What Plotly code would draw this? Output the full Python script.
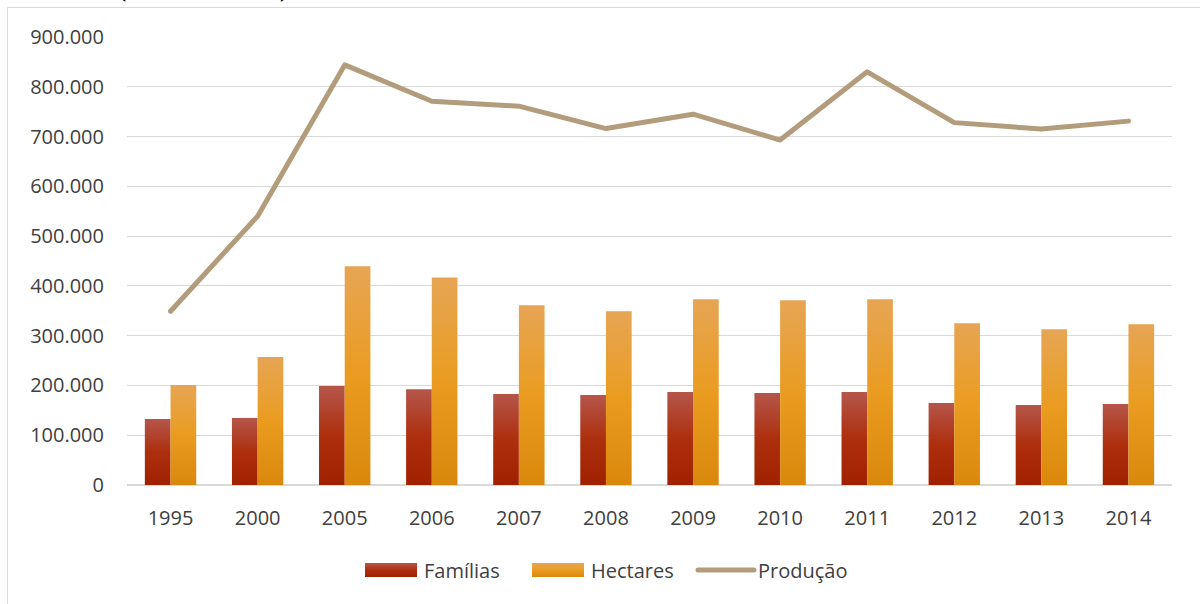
import plotly.graph_objects as go

# Dados por ano
anos = ["1995", "2000", "2005", "2006", "2007", "2008",
        "2009", "2010", "2011", "2012", "2013", "2014"]
familias = [132400, 134400, 198700, 192600, 182600, 180600,
            186600, 184600, 186600, 164500, 160500, 162500]
hectares = [200700, 257000, 439500, 417000, 361000, 349000,
            373000, 371000, 373000, 325000, 313000, 323000]
producao = [349000, 540000, 844000, 771000, 761000, 716000,
            745000, 693000, 830000, 728000, 715000, 731000]

y_ticks = [0, 100000, 200000, 300000, 400000, 500000, 600000, 700000, 800000, 900000]
y_tick_labels = ["0", "100.000", "200.000", "300.000", "400.000",
                 "500.000", "600.000", "700.000", "800.000", "900.000"]

FONT = "Open Sans"
TXT = "#404040"
GRID = "#d9d9d9"

fig = go.Figure()
fig.add_trace(go.Bar(x=anos, y=familias, name="Famílias",
                     marker=dict(color="#ab3113", line=dict(width=0))))
fig.add_trace(go.Bar(x=anos, y=hectares, name="Hectares",
                     marker=dict(color="#e69a22", line=dict(width=0))))
fig.add_trace(go.Scatter(x=anos, y=producao, name="Produção", mode="lines",
                         line=dict(color="#b29c7c", width=5)))

W, H = 1200, 604
L, R, T, B = 127, 28, 37, 119
pw, ph = W - L - R, H - T - B

def px_x(p):
    return (p - L) / pw

def px_y(p):
    return (H - B - p) / ph

# moldura do gráfico
fig.add_shape(type="rect", xref="paper", yref="paper",
              x0=px_x(7.5), x1=px_x(1215), y0=px_y(620), y1=px_y(7.5),
              line=dict(color=GRID, width=1), fillcolor="rgba(0,0,0,0)", layer="below")

fig.add_annotation(text="Paraná (1995 a 2014)", xref="paper", yref="paper",
                   x=px_x(292), y=px_y(4), xanchor="right", yanchor="bottom",
                   showarrow=False,
                   font=dict(family="Liberation Serif", size=31, color="#000000"))

fig.update_layout(
    width=W, height=H,
    margin=dict(l=L, r=R, t=T, b=B, pad=0),
    paper_bgcolor="white", plot_bgcolor="white",
    barmode="group", bargap=0.41, bargroupgap=0,
    font=dict(family=FONT, size=20, color=TXT),
    showlegend=True,
    legend=dict(orientation="h", x=px_x(358), y=px_y(570), xanchor="left", yanchor="middle",
                font=dict(family=FONT, size=20, color=TXT), itemwidth=56,
                entrywidth=96, entrywidthmode="pixels",
                bgcolor="rgba(0,0,0,0)"),
    xaxis=dict(type="category", showgrid=False, showline=True, linecolor=GRID, linewidth=1,
               ticks="", ticklabelstandoff=15, tickfont=dict(family=FONT, size=20, color=TXT)),
    yaxis=dict(range=[0, 900000], tickvals=y_ticks, ticktext=y_tick_labels,
               showgrid=True, gridcolor=GRID, gridwidth=1, zeroline=True, zerolinecolor=GRID,
               showline=False, ticks="", ticklabelstandoff=22,
               tickfont=dict(family=FONT, size=20, color=TXT)),
)

# gradiente vertical nas barras, símbolos largos na legenda e pontas arredondadas na linha
post = """
var gd = document.getElementById('{plot_id}');
function ajustaEstilo(){
  var ns = 'http://www.w3.org/2000/svg';
  var svg = gd.querySelector('svg.main-svg');
  var defs = svg.querySelector('defs');
  var grads = [['gradFam', [['0%','#b5564b'],['50%','#ad2f0d'],['100%','#a02100']]],
               ['gradHec', [['0%','#e6a554'],['50%','#ea9c20'],['100%','#d9880c']]]];
  grads.forEach(function(g){
    if (document.getElementById(g[0])) return;
    var lg = document.createElementNS(ns, 'linearGradient');
    lg.setAttribute('id', g[0]);
    lg.setAttribute('x1', '0'); lg.setAttribute('y1', '0');
    lg.setAttribute('x2', '0'); lg.setAttribute('y2', '1');
    g[1].forEach(function(s){
      var st = document.createElementNS(ns, 'stop');
      st.setAttribute('offset', s[0]);
      st.setAttribute('stop-color', s[1]);
      lg.appendChild(st);
    });
    defs.appendChild(lg);
  });
  var ids = ['gradFam', 'gradHec'];
  gd.querySelectorAll('.barlayer .trace.bars').forEach(function(t, i){
    t.querySelectorAll('path').forEach(function(p){ p.style.fill = 'url(#' + ids[i] + ')'; });
  });
  gd.querySelectorAll('.legend .traces').forEach(function(t, i){
    var l = t.querySelector('path.js-line');
    if (l) {
      l.setAttribute('d', 'M6,0h56');
      l.style.strokeLinecap = 'round';
      return;
    }
    if (i < 2) {
      t.querySelectorAll('.legendpoints path').forEach(function(b){
        b.style.fill = 'url(#' + ids[i] + ')';
        b.setAttribute('d', 'M-26,-7H26V7H-26Z');
      });
    }
  });
  gd.querySelectorAll('.scatterlayer path.js-line').forEach(function(p){
    p.style.strokeLinecap = 'round';
    p.style.strokeLinejoin = 'round';
  });
}
ajustaEstilo();
gd.on('plotly_afterplot', ajustaEstilo);
"""

fig.write_html("out.html", post_script=post)
